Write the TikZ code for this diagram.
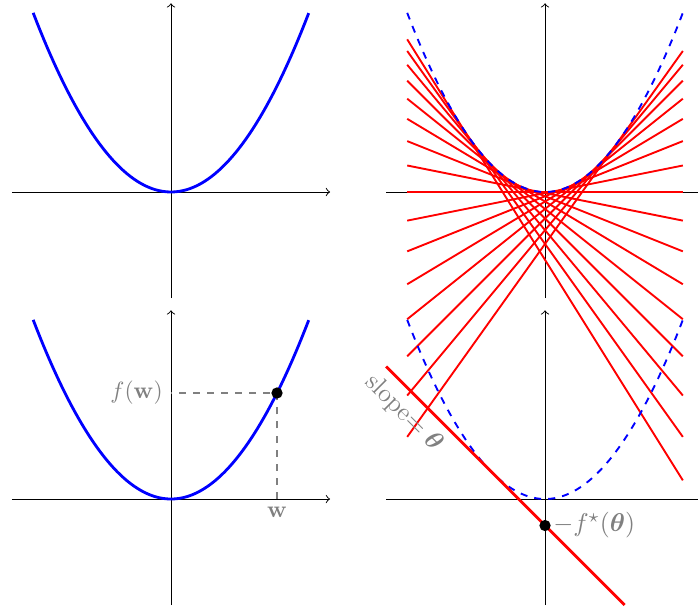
\documentclass[tikz,border=0pt]{standalone}
\usepackage{amsmath}
\begin{document}
\begin{tikzpicture}[x=1.585cm,y=1.585cm,
  axisline/.style={->, line width=0.4pt},
  fcurve/.style={blue, very thick},
  fdashed/.style={blue, thick, dashed},
  tangent/.style={red, thick},
  support/.style={red, very thick},
  guide/.style={gray, thick, dashed},
  lbl/.style={text=gray},
  biglbl/.style={text=gray, font=\fontsize{11}{13}\selectfont},
  dotnode/.style={circle, fill=black, inner sep=0pt, minimum size=4.8pt}]
\clip (-1.613,1.811) rectangle (4.971,-3.934);
% ---------- top left ----------
\begin{scope}
  \coordinate (tlxa) at (-1.5,0); \coordinate (tlxb) at (1.5,0);
  \coordinate (tlya) at (0,-1);   \coordinate (tlyb) at (0,1.78);
  \draw[axisline] (tlxa) -- (tlxb);
  \draw[axisline] (tlya) -- (tlyb);
  \draw[fcurve, domain=-1.3:1.3, samples=80] plot (\x,{\x*\x});
\end{scope}
% ---------- top right ----------
\begin{scope}[shift={(3.528,0)}]
  \coordinate (trxa) at (-1.5,0); \coordinate (trxb) at (1.5,0);
  \coordinate (trya) at (0,-1);   \coordinate (tryb) at (0,1.78);
  \draw[axisline] (trxa) -- (trxb);
  \draw[axisline] (trya) -- (tryb);
  \foreach \i in {-8,...,7}{
    \pgfmathsetmacro{\a}{\i/10}
    \pgfmathsetmacro{\yl}{-2.6*(\a)-(\a)*(\a)}
    \pgfmathsetmacro{\yr}{2.6*(\a)-(\a)*(\a)}
    \draw[tangent] (-1.3,\yl) -- (1.3,\yr);
  }
  \draw[fdashed, domain=-1.3:1.3, samples=80] plot (\x,{\x*\x});
\end{scope}
% ---------- bottom left ----------
\begin{scope}[shift={(0,-2.896)}]
  \coordinate (blxa) at (-1.5,0); \coordinate (blxb) at (1.5,0);
  \coordinate (blya) at (0,-1);   \coordinate (blyb) at (0,1.78);
  \draw[axisline] (blxa) -- (blxb);
  \draw[axisline] (blya) -- (blyb);
  \draw[fcurve, domain=-1.3:1.3, samples=80] plot (\x,{\x*\x});
  \coordinate (wc) at (1,0);
  \coordinate (pc) at (1,1);
  \coordinate (fwc) at (0,1);
  \draw[guide] (wc) -- (pc) -- (fwc);
  \node[dotnode] (p) at (pc) {};
  \node[lbl, left] (fw) at (fwc) {$f(\mathbf{w})$};
  \node[lbl, below] (w) at (wc) {$\mathbf{w}$};
\end{scope}
% ---------- bottom right ----------
\begin{scope}[shift={(3.528,-2.896)}]
  \coordinate (brxa) at (-1.5,0); \coordinate (brxb) at (1.5,0);
  \coordinate (brya) at (0,-1);   \coordinate (bryb) at (0,1.78);
  \draw[axisline] (brxa) -- (brxb);
  \draw[axisline] (brya) -- (bryb);
  \draw[fdashed, domain=-1.3:1.3, samples=80] plot (\x,{\x*\x});
  \coordinate (s0) at (-1.5,1.25);
  \coordinate (s1) at (0.75,-1);
  \draw[support] (s0) -- (s1)
    node[pos=0.135, sloped, below, biglbl] (sl) {slope$=\boldsymbol{\theta}$};
  \coordinate (qc) at (0,-0.25);
  \node[dotnode] (q) at (qc) {};
  \node[biglbl, right] (fs) at (qc) {$-f^\star(\boldsymbol{\theta})$};
\end{scope}
\end{tikzpicture}
\end{document}
